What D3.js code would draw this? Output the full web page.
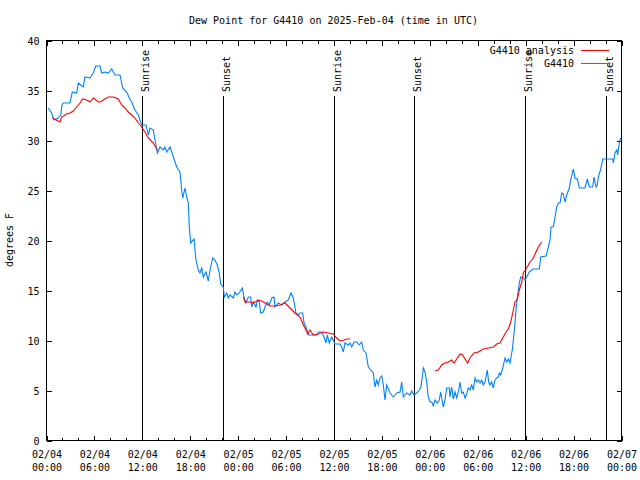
<!DOCTYPE html>
<html>
<head>
<meta charset="utf-8">
<script src="https://cdn.jsdelivr.net/npm/d3@7"></script>
<style>
  html, body { margin: 0; padding: 0; background: #fff; }
  svg { display: block; }
  text { font-family: "DejaVu Sans Mono", "Liberation Mono", monospace; font-size: 10px; fill: #000; }
</style>
</head>
<body>
<svg id="chart" width="640" height="480"></svg>
<script>
// ---- data (hours since 2025-02-04 00:00 UTC) ----
const chartTitle = "Dew Point for G4410 on 2025-Feb-04 (time in UTC)";
const yLabel = "degrees F";
const seriesNames = ["G4410 analysis", "G4410"];
const yTicks = [0, 5, 10, 15, 20, 25, 30, 35, 40];

const obsHours = [0.29,0.71,1.00,1.54,1.84,2.00,2.17,3.01,3.29,3.84,4.04,4.67,4.88,5.51,5.92,6.22,6.76,6.97,7.39,7.80,8.23,8.64,9.27,9.60,10.11,10.43,10.73,11.14,11.56,11.98,12.52,12.81,13.02,13.44,13.65,13.94,14.27,14.69,14.90,15.11,15.53,15.87,16.37,16.78,16.99,17.12,17.41,17.62,17.82,17.94,18.12,18.53,18.78,19.07,19.28,19.50,19.70,20.04,20.32,20.54,20.87,21.16,21.45,21.70,21.88,22.20,22.33,22.63,22.83,23.04,23.45,23.67,23.88,24.20,24.58,24.79,25.04,25.33,25.63,25.76,25.96,26.30,26.46,26.71,26.88,27.21,27.42,27.71,27.96,28.26,28.55,28.68,29.09,29.51,29.93,30.34,30.68,30.97,31.30,31.59,31.81,32.14,32.31,32.56,32.85,33.27,33.90,34.10,34.52,34.81,35.06,35.22,35.47,35.77,36.19,36.81,37.03,37.23,37.44,37.85,38.07,38.28,38.57,38.91,39.23,39.53,39.73,40.07,40.36,40.66,40.98,41.20,41.41,41.61,41.82,42.04,42.24,42.45,42.66,43.08,43.49,43.92,44.33,44.54,44.74,45.17,45.58,45.79,46.08,46.42,46.74,46.96,47.25,47.46,47.67,47.87,48.08,48.30,48.50,48.71,49.00,49.25,49.42,49.55,49.75,49.96,50.18,50.50,50.59,50.80,51.00,51.21,51.43,51.63,51.84,52.05,52.25,52.47,52.68,52.88,53.09,53.31,53.51,53.72,53.93,54.13,54.35,54.56,54.76,54.97,55.26,55.43,55.60,55.81,56.01,56.22,56.44,56.64,56.76,56.94,57.19,57.48,57.69,57.89,58.10,58.31,58.39,58.52,58.73,58.85,59.02,59.27,59.44,59.77,59.98,60.19,60.52,60.94,61.77,61.95,62.61,62.90,63.11,63.24,63.52,63.74,63.95,64.15,64.36,64.58,64.78,64.99,65.20,65.53,65.70,66.03,66.24,66.53,66.78,67.49,67.78,68.03,68.46,68.62,68.87,69.03,69.16,69.46,69.71,70.96,71.04,71.25,71.46,71.58,71.81,71.94];
const obsValues = [33.2,32.7,32.0,32.2,32.5,33.5,33.7,33.7,34.8,34.7,35.7,35.3,36.3,36.2,36.7,37.4,37.4,36.7,36.8,36.7,37.1,36.5,36.5,35.2,34.8,34.2,33.8,33.0,32.5,31.5,31.5,30.5,31.2,31.0,30.0,28.7,29.3,29.0,29.3,28.8,29.3,28.5,27.3,26.8,25.0,24.2,25.2,24.3,23.7,21.3,19.7,20.1,18.0,17.0,16.7,17.2,16.3,16.8,15.9,17.0,18.2,18.0,17.5,16.7,15.6,15.3,14.3,14.7,14.2,14.5,14.2,14.8,14.5,14.7,15.2,14.3,13.7,14.3,14.3,13.3,13.8,13.3,14.0,13.8,12.7,12.8,13.3,13.8,13.5,14.2,14.3,13.3,13.7,13.5,13.8,14.0,14.7,14.2,12.7,12.5,12.7,12.7,11.7,11.3,10.5,10.5,10.5,10.8,10.8,10.3,9.7,10.5,9.7,10.3,9.6,9.6,9.3,8.8,9.7,9.5,9.7,9.3,9.8,9.8,9.5,9.8,9.0,8.7,7.3,7.0,6.7,5.3,6.0,5.5,6.2,6.4,5.5,4.0,5.5,4.7,4.3,4.7,4.8,5.8,4.3,4.7,4.5,4.9,4.5,4.7,5.0,5.3,7.2,6.8,5.8,4.3,3.8,3.8,3.4,4.0,3.7,4.0,4.8,4.2,3.3,4.0,5.2,5.2,4.3,5.3,4.1,4.8,4.2,4.8,5.8,4.7,4.8,4.2,4.6,5.2,5.0,5.5,5.0,6.2,5.8,6.0,5.7,6.0,5.5,5.8,7.0,5.8,5.5,5.8,5.2,6.0,6.2,6.3,6.7,6.5,7.2,8.2,7.8,8.1,7.7,8.7,9.0,10.0,11.7,13.0,14.3,15.7,16.3,16.2,16.0,16.3,16.8,17.1,17.1,18.3,18.4,19.3,20.0,21.3,21.3,22.3,23.3,23.7,23.7,24.7,24.6,23.8,24.5,25.2,26.0,27.1,26.2,26.1,25.2,25.2,26.1,25.3,25.3,26.3,25.3,25.5,26.3,27.1,28.1,28.1,27.7,28.7,29.0,28.5,29.8,30.2];

// analysis series; null marks a gap
const anaHours = [0.80,1.29,1.75,1.97,2.59,3.01,3.42,3.84,4.26,4.59,5.10,5.51,5.93,6.55,6.76,7.18,7.80,8.43,9.05,9.48,9.89,10.31,10.73,11.14,11.56,11.98,12.40,12.81,13.44,13.94,
  20.0,
  24.71,24.92,25.54,25.96,26.58,27.01,28.05,28.68,29.30,29.93,30.55,31.18,31.81,32.22,32.56,32.77,33.06,33.47,34.10,34.72,35.35,35.98,36.40,36.81,37.32,37.65,38.07,
  44.0,
  48.71,49.12,49.55,49.96,50.38,50.80,51.09,51.43,51.84,52.18,52.47,52.80,53.09,53.59,54.13,54.76,55.39,56.01,56.44,56.85,57.26,57.60,57.89,58.19,58.52,58.73,59.02,59.27,59.57,59.77,60.19,60.61,61.02,61.36,61.65,62.07];
const anaValues = [32.2,32.0,31.8,32.3,32.6,32.7,32.9,33.3,33.7,34.1,34.0,33.8,34.2,33.8,33.8,34.0,34.3,34.3,34.1,33.5,33.2,32.8,32.5,32.2,31.7,31.3,30.8,30.2,29.7,29.0,
  null,
  14.3,13.8,13.8,13.7,14.0,13.9,13.4,13.4,13.5,13.7,13.2,12.7,12.3,11.5,11.0,10.6,11.0,10.5,10.6,10.8,10.7,10.6,10.2,9.9,10.0,10.1,10.1,
  null,
  6.9,7.0,7.5,7.7,7.8,8.0,7.7,8.1,8.6,8.5,8.1,7.7,8.2,8.7,8.8,9.1,9.2,9.3,9.6,9.7,10.3,10.8,11.1,11.8,13.0,13.8,14.1,15.0,15.8,16.7,17.2,17.8,18.2,18.8,19.3,19.8];

const sunEvents = ["Sunrise", "Sunset", "Sunrise", "Sunset", "Sunrise", "Sunset"];
const sunHours = [12.02, 22.15, 36.05, 46.05, 59.98, 70.12];

// ---- chart ----
const start = Date.UTC(2025, 1, 4, 0, 0);
const toDate = h => new Date(start + h * 3600e3);
const L = 46, R = 621, T = 40, B = 440;

const svg = d3.select("#chart");
const x = d3.scaleUtc().domain([toDate(0), toDate(72)]).range([L, R]);
const y = d3.scaleLinear().domain([0, 40]).range([B, T]);

const px = v => Math.round(v) + 0.5;

// title
svg.append("text").attr("x", (L + R) / 2).attr("y", 24).attr("text-anchor", "middle").text(chartTitle);
// y label
svg.append("text").attr("transform", "translate(13,240) rotate(-90)").attr("text-anchor", "middle").text(yLabel);

// frame
svg.append("rect").attr("x", L + 0.5).attr("y", T + 0.5).attr("width", R - L).attr("height", B - T)
  .attr("fill", "none").attr("stroke", "#000").attr("shape-rendering", "crispEdges");

const major = d3.utcHour.every(6), minor = d3.utcHour.every(2);
const tickFmt1 = d3.utcFormat("%m/%d"), tickFmt2 = d3.utcFormat("%H:%M");

function styleAxis(g) {
  g.select(".domain").remove();
  g.selectAll("line").attr("stroke", "#000").attr("shape-rendering", "crispEdges");
}

// bottom axis major
const gxb = svg.append("g").attr("transform", `translate(0.5,${B + 0.5})`)
  .call(d3.axisBottom(x).ticks(major).tickSize(-5).tickSizeOuter(0).tickPadding(0).tickFormat(""));
styleAxis(gxb);
gxb.selectAll(".tick").each(function(d) {
  const t = d3.select(this).select("text");
  t.attr("y", 0).attr("dy", null).attr("fill", "#000")
    .style("font-family", '"DejaVu Sans Mono", "Liberation Mono", monospace').style("font-size", "10px");
  t.append("tspan").attr("x", 0).attr("y", 17).text(tickFmt1(d));
  t.append("tspan").attr("x", 0).attr("y", 30).text(tickFmt2(d));
});
// bottom minor
styleAxis(svg.append("g").attr("transform", `translate(0.5,${B + 0.5})`)
  .call(d3.axisBottom(x).ticks(minor).tickSize(-3).tickSizeOuter(0).tickFormat("")));
// top axis major + minor
styleAxis(svg.append("g").attr("transform", `translate(0.5,${T + 0.5})`)
  .call(d3.axisTop(x).ticks(major).tickSize(-5).tickSizeOuter(0).tickFormat("")));
styleAxis(svg.append("g").attr("transform", `translate(0.5,${T + 0.5})`)
  .call(d3.axisTop(x).ticks(minor).tickSize(-3).tickSizeOuter(0).tickFormat("")));

// left axis
const gyl = svg.append("g").attr("transform", `translate(${L + 0.5},0.5)`)
  .call(d3.axisLeft(y).tickValues(yTicks).tickSize(-5).tickSizeOuter(0).tickPadding(7));
styleAxis(gyl);
gyl.selectAll("text").attr("fill", "#000").attr("dy", "0.35em")
  .style("font-family", '"DejaVu Sans Mono", "Liberation Mono", monospace').style("font-size", "10px");
// right axis
styleAxis(svg.append("g").attr("transform", `translate(${R + 0.5},0.5)`)
  .call(d3.axisRight(y).tickValues(yTicks).tickSize(-5).tickSizeOuter(0).tickFormat("")));

// sunrise / sunset lines
sunHours.forEach((h, i) => {
  const xx = px(x(toDate(h)));
  svg.append("line").attr("x1", xx).attr("x2", xx).attr("y1", 96).attr("y2", B)
    .attr("stroke", "#000").attr("shape-rendering", "crispEdges");
  svg.append("text").attr("transform", `translate(${xx + 6},92) rotate(-90)`)
    .attr("text-anchor", "start").text(sunEvents[i]);
});

// data lines
const anaData = anaHours.map((h, i) => ({ t: toDate(h), v: anaValues[i] }));
const obsData = obsHours.map((h, i) => ({ t: toDate(h), v: obsValues[i] }));
const line = d3.line().defined(d => d.v !== null).x(d => x(d.t)).y(d => y(d.v));

svg.append("path").datum(obsData).attr("d", line)
  .attr("fill", "none").attr("stroke", "#0080ff").attr("stroke-width", 1.1);
svg.append("path").datum(anaData).attr("d", line)
  .attr("fill", "none").attr("stroke", "#ff0000").attr("stroke-width", 1.1);

// legend
const legendColors = ["#ff0000", "#0080ff"];
seriesNames.forEach((name, i) => {
  const ly = 50 + i * 13;
  svg.append("text").attr("x", 574).attr("y", ly + 4).attr("text-anchor", "end").text(name);
  svg.append("line").attr("x1", 581).attr("x2", 609).attr("y1", ly + 0.5).attr("y2", ly + 0.5)
    .attr("stroke", legendColors[i]).attr("stroke-width", 1).attr("shape-rendering", "crispEdges");
});
</script>
</body>
</html>
